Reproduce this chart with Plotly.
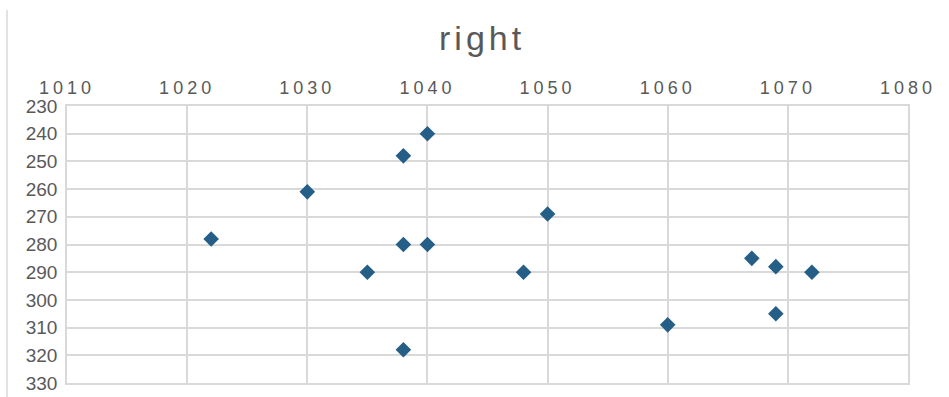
import plotly.graph_objects as go

# Observations: x and y coordinates of each point
x_vals = [1040, 1038, 1030, 1050, 1022, 1038, 1040, 1035, 1048, 1067, 1069, 1072, 1060, 1069, 1038]
y_vals = [240, 248, 261, 269, 278, 280, 280, 290, 290, 285, 288, 290, 309, 305, 318]

x_ticks = [1010, 1020, 1030, 1040, 1050, 1060, 1070, 1080]
y_ticks = [230, 240, 250, 260, 270, 280, 290, 300, 310, 320, 330]

FONT = "Liberation Sans, Arial, sans-serif"
GREY_TEXT = "#595959"
GRID = "#d9d9d9"

fig = go.Figure(
    go.Scatter(
        x=x_vals,
        y=y_vals,
        mode="markers",
        marker=dict(symbol="diamond", size=12, color="#255e86"),
        hoverinfo="x+y",
    )
)

fig.update_layout(
    width=949,
    height=397,
    margin=dict(l=67, r=41, t=106, b=14, autoexpand=False),
    paper_bgcolor="white",
    plot_bgcolor="white",
    showlegend=False,
    font=dict(family=FONT, color=GREY_TEXT),
    title=dict(
        text='<span style="letter-spacing:4px">right</span>',
        x=0.508,
        xanchor="center",
        y=0.905,
        yanchor="middle",
        font=dict(size=34, color=GREY_TEXT, family=FONT, weight=500),
    ),
    xaxis=dict(
        side="top",
        range=[1010, 1080],
        tickvals=x_ticks,
        ticktext=['<span style="letter-spacing:4px">%d</span>' % v for v in x_ticks],
        tickfont=dict(size=18, color=GREY_TEXT),
        showgrid=True,
        gridcolor=GRID,
        gridwidth=1.5,
        zeroline=False,
        showline=True,
        linecolor=GRID,
        linewidth=1.5,
        mirror=True,
        ticks="",
        ticklabelstandoff=3,
        automargin=False,
    ),
    yaxis=dict(
        range=[330, 230],
        tickvals=y_ticks,
        ticktext=[str(v) for v in y_ticks],
        tickfont=dict(size=19, color=GREY_TEXT),
        showgrid=True,
        gridcolor=GRID,
        gridwidth=1.5,
        zeroline=False,
        showline=True,
        linecolor=GRID,
        linewidth=1.5,
        mirror=True,
        ticks="",
        ticklabelstandoff=4,
        automargin=False,
    ),
    shapes=[
        dict(
            type="line",
            xref="paper",
            yref="paper",
            x0=-60 / 841,
            x1=-60 / 841,
            y0=-14 / 277,
            y1=1 + 96 / 277,
            line=dict(color=GRID, width=1.5),
        )
    ],
)

fig.write_html("out.html")
